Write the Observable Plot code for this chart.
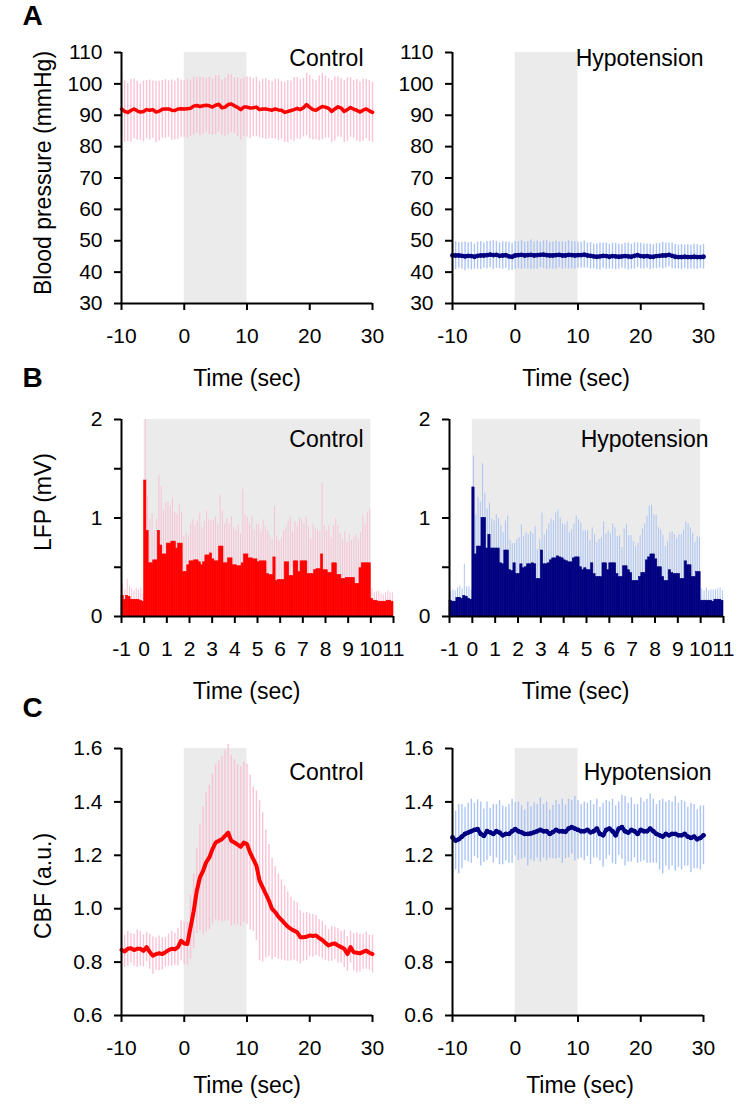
<!DOCTYPE html>
<html><head><meta charset="utf-8">
<script src="https://cdn.jsdelivr.net/npm/d3@7"></script>
<script src="https://cdn.jsdelivr.net/npm/@observablehq/plot@0.6"></script>
<style>
body{margin:0;background:#fff;}
#fig{position:relative;width:750px;height:1104px;background:#fff;overflow:hidden;}
#fig svg{position:absolute;}
</style></head><body><div id="fig"></div>
<script>
// ---------- DATA ----------
const stimulus = [{start: 0, end: 10}];
const conditions = ["Control", "Hypotension"];
const panelLetters = ["A", "B", "C"];
const yTitles = ["Blood pressure (mmHg)", "LFP (mV)", "CBF (a.u.)"];
const xTitle = "Time (sec)";
const ticksAC = [-10, 0, 10, 20, 30];
const ticksB = [-1, 0, 1, 2, 3, 4, 5, 6, 7, 8, 9, 10, 11];
const ticksBP = [30, 40, 50, 60, 70, 80, 90, 100, 110];
const ticksLFP = [0, 0.5, 1, 1.5, 2];
const ticksCBF = [0.6, 0.8, 1.0, 1.2, 1.4, 1.6];

// time grid of A and C (every 0.5 s from -10 to 30 s)
const timeAC = Array.from({length: 81}, (_, i) => -10 + i * 0.5);
// LFP bins of 0.1 s from -1 to 11 s
const binStartB = Array.from({length: 120}, (_, i) => Math.round((-1 + i * 0.1) * 10) / 10);

// A: blood pressure (mmHg)
const bpControlMean = [
 92.0,91.2,90.9,91.5,92.0,91.4,91.0,91.2,91.8,91.6,91.8,91.0,91.3,91.9,92.0,92.0,91.6,91.5,92.0,92.1,92.0,
 92.1,92.2,92.9,93.1,92.8,93.0,93.2,93.0,92.6,93.2,93.5,92.4,92.6,93.4,93.6,93.0,92.5,91.8,92.6,92.6,
 92.3,92.4,92.6,91.8,92.0,92.0,91.8,91.6,92.0,91.7,91.6,90.9,91.2,91.5,91.8,92.2,91.8,92.4,93.4,92.5,
 91.8,91.6,92.2,92.8,92.6,92.2,91.2,92.0,92.7,92.3,91.2,91.8,92.5,91.9,91.6,91.0,91.6,92.0,91.4,90.9];
const bpControlSD = [
 9.6,9.8,9.2,10.0,9.5,9.4,9.0,9.7,9.3,9.6,9.1,9.8,9.5,9.2,9.4,9.0,9.6,9.3,9.7,9.1,9.0,
 9.5,8.9,9.3,8.8,9.4,9.1,8.7,9.2,8.9,9.5,9.0,8.8,9.3,9.6,9.2,8.9,9.4,9.7,9.3,9.6,
 9.8,9.2,9.5,9.0,9.4,9.7,9.3,9.1,9.5,9.8,9.2,9.6,9.9,9.4,10.2,9.8,9.5,9.3,9.9,10.1,
 9.6,9.4,10.3,10.6,9.9,9.5,9.8,10.2,9.6,9.4,9.9,10.1,9.5,9.2,9.8,9.6,9.9,9.4,9.7,9.5];
const bpHypoMean = [
 45.3,45.3,45.3,45.2,45.0,45.2,45.1,44.9,45.2,45.3,45.3,45.4,45.6,45.4,45.5,45.2,45.3,45.4,45.0,44.9,45.3,
 45.4,45.5,45.3,45.4,45.5,45.3,45.4,45.5,45.6,45.4,45.3,45.3,45.4,45.5,45.3,45.3,45.5,45.4,45.3,45.4,
 45.4,45.6,45.3,45.2,45.0,44.9,45.0,45.2,45.1,44.9,45.1,45.0,44.9,45.0,45.1,45.0,44.9,45.2,45.4,45.1,
 45.0,45.1,44.9,44.9,45.1,45.2,45.3,45.3,45.5,45.2,44.9,44.8,44.8,44.9,44.8,44.8,44.9,44.8,44.8,44.9];
const bpHypoSD = [
 4.2,4.5,4.1,4.3,4.6,4.2,4.4,4.0,4.3,4.5,4.1,4.4,4.2,4.6,4.3,4.1,4.4,4.2,4.5,4.3,4.4,
 4.3,4.6,4.2,4.4,4.7,4.3,4.5,4.1,4.4,4.6,4.2,4.3,4.5,4.1,4.4,4.2,4.5,4.3,4.4,4.2,
 4.1,4.3,4.0,4.2,3.9,4.1,4.3,4.0,4.2,3.9,4.1,4.2,4.0,3.8,4.1,4.3,4.0,4.2,3.9,4.1,
 4.0,3.9,4.1,3.8,4.0,3.9,4.2,4.0,3.8,4.1,3.9,3.8,4.0,3.7,3.9,3.8,4.0,3.9,3.7,3.9];

// B: LFP (mV), 0.1 s bins
const lfpControl = [
 0.21,0.17,0.21,0.20,0.17,0.17,0.17,0.17,0.16,0.15,
 1.38,0.87,0.54,0.54,0.57,0.57,0.87,0.72,0.63,0.63,
 0.74,0.74,0.76,0.76,0.69,0.74,0.74,0.45,0.45,0.52,
 0.56,0.56,0.57,0.57,0.55,0.52,0.55,0.62,0.62,0.64,
 0.58,0.56,0.56,0.71,0.71,0.54,0.54,0.59,0.59,0.52,
 0.52,0.51,0.51,0.54,0.63,0.63,0.59,0.59,0.58,0.58,
 0.55,0.56,0.56,0.56,0.43,0.42,0.42,0.60,0.36,0.37,
 0.37,0.37,0.55,0.55,0.41,0.41,0.56,0.56,0.45,0.56,
 0.56,0.56,0.43,0.43,0.43,0.47,0.48,0.48,0.63,0.47,
 0.47,0.44,0.44,0.54,0.54,0.42,0.42,0.38,0.38,0.39,
 0.39,0.39,0.39,0.33,0.33,0.49,0.54,0.54,0.54,0.54,
 0.18,0.16,0.16,0.15,0.15,0.15,0.15,0.16,0.16,0.15];
const lfpControlSD = [
 0.12,0.10,0.17,0.10,0.11,0.09,0.12,0.10,0.13,0.08,
 0.62,0.35,0.45,0.50,0.30,0.42,0.56,0.60,0.45,0.52,
 0.42,0.38,0.44,0.30,0.35,0.40,0.32,0.36,0.40,0.30,
 0.38,0.42,0.35,0.40,0.50,0.38,0.42,0.45,0.36,0.33,
 0.40,0.45,0.38,0.52,0.36,0.40,0.45,0.35,0.42,0.38,
 0.36,0.42,0.33,0.75,0.40,0.38,0.35,0.42,0.30,0.36,
 0.38,0.30,0.42,0.35,0.44,0.40,0.36,0.52,0.45,0.40,
 0.42,0.50,0.35,0.42,0.60,0.45,0.40,0.35,0.55,0.42,
 0.38,0.45,0.48,0.36,0.50,0.42,0.40,0.38,0.72,0.45,
 0.40,0.48,0.36,0.38,0.45,0.50,0.42,0.40,0.48,0.36,
 0.44,0.38,0.42,0.50,0.45,0.36,0.48,0.40,0.52,0.55,
 0.10,0.08,0.09,0.11,0.08,0.07,0.09,0.10,0.08,0.09];
const lfpHypo = [
 0.16,0.15,0.15,0.19,0.19,0.18,0.21,0.20,0.18,0.17,
 1.31,0.63,0.71,0.71,1.00,1.00,0.69,0.83,0.69,0.69,
 0.69,0.69,0.54,0.53,0.67,0.67,0.47,0.46,0.54,0.43,
 0.43,0.53,0.49,0.50,0.53,0.53,0.54,0.53,0.38,0.38,
 0.67,0.53,0.53,0.54,0.57,0.59,0.59,0.61,0.60,0.59,
 0.57,0.56,0.55,0.55,0.59,0.60,0.60,0.50,0.47,0.49,
 0.47,0.47,0.54,0.43,0.40,0.40,0.40,0.54,0.54,0.47,
 0.54,0.54,0.54,0.43,0.40,0.40,0.51,0.51,0.47,0.44,
 0.36,0.36,0.36,0.40,0.44,0.44,0.57,0.60,0.63,0.63,
 0.58,0.50,0.50,0.40,0.36,0.36,0.47,0.44,0.43,0.43,
 0.43,0.38,0.38,0.56,0.52,0.52,0.40,0.40,0.45,0.45,
 0.16,0.16,0.16,0.16,0.16,0.15,0.17,0.17,0.17,0.16];
const lfpHypoSD = [
 0.10,0.12,0.11,0.10,0.12,0.10,0.32,0.10,0.12,0.10,
 0.32,0.40,0.50,0.45,0.55,0.25,0.40,0.32,0.30,0.28,
 0.34,0.30,0.38,0.32,0.30,0.35,0.30,0.28,0.20,0.35,
 0.37,0.40,0.32,0.35,0.30,0.33,0.30,0.38,0.30,0.40,
 0.38,0.30,0.35,0.40,0.42,0.38,0.46,0.47,0.40,0.35,
 0.36,0.40,0.30,0.33,0.35,0.42,0.38,0.45,0.40,0.38,
 0.40,0.30,0.36,0.40,0.35,0.38,0.40,0.42,0.30,0.40,
 0.30,0.40,0.36,0.38,0.42,0.30,0.38,0.42,0.35,0.38,
 0.40,0.35,0.38,0.42,0.45,0.50,0.45,0.52,0.50,0.40,
 0.45,0.40,0.38,0.42,0.35,0.40,0.38,0.42,0.40,0.36,
 0.40,0.45,0.50,0.40,0.42,0.38,0.44,0.35,0.36,0.35,
 0.12,0.10,0.13,0.10,0.11,0.12,0.10,0.11,0.12,0.10];

// C: CBF (a.u.)
const cbfControlMean = [
 0.846,0.840,0.850,0.852,0.845,0.850,0.850,0.842,0.856,0.838,0.824,0.830,0.833,0.830,0.837,0.845,0.850,0.848,0.856,0.880,0.870,
 0.868,0.930,0.990,1.067,1.117,1.142,1.174,1.192,1.223,1.248,1.254,1.260,1.273,1.285,1.254,1.248,1.240,1.232,1.248,1.242,
 1.210,1.186,1.161,1.105,1.080,1.055,1.030,0.999,0.987,0.970,0.958,0.945,0.933,0.924,0.918,0.912,0.893,0.893,0.895,0.900,
 0.898,0.900,0.890,0.883,0.872,0.862,0.868,0.870,0.862,0.856,0.850,0.830,0.856,0.837,0.835,0.833,0.838,0.843,0.835,0.830];
const cbfControlSD = [
 0.070,0.060,0.065,0.055,0.060,0.070,0.065,0.060,0.055,0.065,0.070,0.060,0.065,0.060,0.055,0.060,0.065,0.060,0.070,0.075,0.080,
 0.080,0.120,0.140,0.160,0.200,0.240,0.260,0.270,0.280,0.290,0.300,0.310,0.320,0.330,0.320,0.310,0.300,0.300,0.300,0.300,
 0.290,0.270,0.280,0.300,0.280,0.240,0.210,0.190,0.170,0.160,0.150,0.140,0.130,0.120,0.110,0.110,0.100,0.090,0.090,0.080,
 0.080,0.075,0.070,0.070,0.065,0.060,0.065,0.060,0.065,0.060,0.070,0.065,0.060,0.070,0.075,0.070,0.065,0.070,0.065,0.070];
const cbfHypoMean = [
 1.267,1.255,1.260,1.270,1.280,1.285,1.290,1.295,1.298,1.280,1.273,1.290,1.286,1.280,1.290,1.285,1.275,1.280,1.280,1.290,1.298,
 1.290,1.286,1.280,1.280,1.282,1.286,1.290,1.295,1.290,1.290,1.280,1.287,1.295,1.290,1.290,1.288,1.300,1.305,1.300,1.295,
 1.290,1.290,1.295,1.286,1.290,1.300,1.280,1.275,1.295,1.300,1.290,1.275,1.300,1.305,1.290,1.285,1.295,1.290,1.280,1.295,
 1.290,1.290,1.300,1.290,1.280,1.275,1.270,1.280,1.275,1.280,1.280,1.275,1.275,1.280,1.270,1.265,1.270,1.260,1.265,1.275];
const cbfHypoSD = [
 0.12,0.11,0.13,0.12,0.10,0.11,0.12,0.10,0.11,0.12,0.10,0.11,0.09,0.11,0.10,0.12,0.11,0.10,0.11,0.12,0.10,
 0.11,0.10,0.09,0.12,0.10,0.11,0.10,0.12,0.10,0.11,0.09,0.10,0.11,0.10,0.12,0.10,0.11,0.10,0.12,0.11,
 0.10,0.11,0.10,0.12,0.10,0.11,0.10,0.12,0.11,0.10,0.12,0.11,0.10,0.12,0.13,0.11,0.12,0.10,0.11,0.12,
 0.11,0.12,0.13,0.12,0.11,0.13,0.14,0.12,0.13,0.12,0.14,0.12,0.13,0.12,0.11,0.13,0.12,0.11,0.12,0.11];

// ---------- STYLE ----------
const FONT = '"Liberation Sans", Arial, Helvetica, sans-serif';
const RED = "#ff0000", RED_ERR = "#f9c3d5";
const NAVY = "#000080", NAVY_ERR = "#adc5f4";
const SHADE = "#ebebeb";
const fig = document.getElementById("fig");

const seriesAC = (mean, sd) => timeAC.map((t, i) => ({t, m: mean[i], sd: sd[i]}));
const binsB = (val, sd) => binStartB.map((t, i) => ({t0: t, t1: Math.round((t + 0.1) * 10) / 10, v: val[i], sd: sd[i]}));

function lineMarks(data, color, errColor, width, dots) {
  const ms = [
    Plot.ruleX(data, {x: "t", y1: d => d.m - d.sd, y2: d => d.m + d.sd, stroke: errColor, strokeWidth: 1.4}),
    Plot.line(data, {x: "t", y: "m", stroke: color, strokeWidth: width, strokeLinejoin: "round", strokeLinecap: "round"})
  ];
  if (dots) ms.push(Plot.dot(data, {x: "t", y: "m", r: 2.4, fill: color}));
  return ms;
}
function barMarks(data, color, errColor) {
  return [
    Plot.ruleX(data, {x: d => d.t0 + 0.05, y1: d => Math.max(0, d.v - d.sd), y2: d => d.v + d.sd, stroke: errColor, strokeWidth: 1}),
    Plot.rect(data, {x1: "t0", x2: "t1", y1: () => 0, y2: "v", fill: color, stroke: color, strokeWidth: 0.6})
  ];
}

function panel(c) {
  const marks = [
    Plot.rect(stimulus, {x1: "start", x2: "end", y1: () => c.yDomain[0], y2: () => c.yDomain[1], fill: SHADE}),
    ...c.dataMarks,
    Plot.ruleX([c.xDomain[0]], {stroke: "#000", strokeWidth: 2}),
    Plot.ruleY([c.yDomain[0]], {stroke: "#000", strokeWidth: 2}),
    Plot.axisX({ticks: c.xTicks, tickFormat: d => String(d), tickSize: 7, tickPadding: 18, strokeWidth: 2, label: null, fontSize: 21}),
    Plot.axisY({ticks: c.yTicks, tickFormat: c.yFormat, tickSize: 7, tickPadding: 12, strokeWidth: 2, label: null, fontSize: 21}),
    Plot.text([xTitle], {text: d => d, frameAnchor: "bottom", textAnchor: "middle", lineAnchor: "top", dx: c.xTitleDx, dy: c.xTitleDy, fontSize: 23}),
    Plot.text([c.condition], {text: d => d, frameAnchor: "top-right", textAnchor: "end", lineAnchor: "top", dx: c.condDx, dy: c.condDy, fontSize: 23})
  ];
  if (c.yTitle) marks.push(Plot.text([c.yTitle], {text: d => d, frameAnchor: "left", textAnchor: "middle", lineAnchor: "middle", rotate: -90, dx: -78, dy: c.yTitleDy, fontSize: 23}));
  if (c.letter) marks.push(Plot.text([c.letter], {text: d => d, frameAnchor: "top-left", textAnchor: "start", lineAnchor: "top", dx: -99, dy: c.letterDy, fontSize: 28, fontWeight: "bold"}));
  const svg = Plot.plot({
    width: c.width, height: c.height,
    marginLeft: c.m[0], marginRight: c.m[1], marginTop: c.m[2], marginBottom: c.m[3],
    x: {domain: c.xDomain, axis: null},
    y: {domain: c.yDomain, axis: null},
    style: {background: "transparent", overflow: "visible", fontFamily: FONT, fontSize: "21px", color: "#000"},
    marks
  });
  svg.style.left = c.left + "px";
  svg.style.top = c.top + "px";
  fig.appendChild(svg);
}

const fmtInt = d => String(d);
const fmtLFP = d => (Number.isInteger(d) ? String(d) : "");
const fmtCBF = d => d.toFixed(1);

// Row A
panel({left: 0, top: 0, width: 380, height: 400, m: [121, 8, 52, 97], xDomain: [-10, 30], xTicks: ticksAC,
  yDomain: [30, 110], yTicks: ticksBP, yFormat: fmtInt, condition: conditions[0], condDx: -9, condDy: -3,
  xTitleDx: 0, xTitleDy: 66, yTitle: yTitles[0], yTitleDy: -5, letter: panelLetters[0], letterDy: -47,
  dataMarks: lineMarks(seriesAC(bpControlMean, bpControlSD), RED, RED_ERR, 3.5, false)});
panel({left: 380, top: 0, width: 370, height: 400, m: [72, 47, 52, 97], xDomain: [-10, 30], xTicks: ticksAC,
  yDomain: [30, 110], yTicks: ticksBP, yFormat: fmtInt, condition: conditions[1], condDx: 0, condDy: -3,
  xTitleDx: -2, xTitleDy: 66,
  dataMarks: lineMarks(seriesAC(bpHypoMean, bpHypoSD), NAVY, NAVY_ERR, 3.5, true)});
// Row B
panel({left: 0, top: 355, width: 410, height: 350, m: [121, 17, 64, 89], xDomain: [-1, 11], xTicks: ticksB,
  yDomain: [0, 2], yTicks: ticksLFP, yFormat: fmtLFP, condition: conditions[0], condDx: -30, condDy: 11,
  xTitleDx: -11, xTitleDy: 66, yTitle: yTitles[1], yTitleDy: -16, letter: panelLetters[1], letterDy: -52,
  dataMarks: barMarks(binsB(lfpControl, lfpControlSD), RED, RED_ERR)});
panel({left: 410, top: 355, width: 340, height: 350, m: [39, 27, 64, 89], xDomain: [-1, 11], xTicks: ticksB,
  yDomain: [0, 2], yTicks: ticksLFP, yFormat: fmtLFP, condition: conditions[1], condDx: -15, condDy: 11,
  xTitleDx: -11, xTitleDy: 66,
  dataMarks: barMarks(binsB(lfpHypo, lfpHypoSD), NAVY, NAVY_ERR)});
// Row C
panel({left: 0, top: 690, width: 380, height: 414, m: [121, 8, 58, 89], xDomain: [-10, 30], xTicks: ticksAC,
  yDomain: [0.6, 1.6], yTicks: ticksCBF, yFormat: fmtCBF, condition: conditions[0], condDx: -9, condDy: 15,
  xTitleDx: 0, xTitleDy: 61, yTitle: yTitles[2], yTitleDy: 4, letter: panelLetters[2], letterDy: -51,
  dataMarks: lineMarks(seriesAC(cbfControlMean, cbfControlSD), RED, RED_ERR, 4, false)});
panel({left: 380, top: 690, width: 370, height: 414, m: [72, 47, 58, 89], xDomain: [-10, 30], xTicks: ticksAC,
  yDomain: [0.6, 1.6], yTicks: ticksCBF, yFormat: fmtCBF, condition: conditions[1], condDx: 8, condDy: 15,
  xTitleDx: 2, xTitleDy: 61,
  dataMarks: lineMarks(seriesAC(cbfHypoMean, cbfHypoSD), NAVY, NAVY_ERR, 4, true)});
</script></body></html>
